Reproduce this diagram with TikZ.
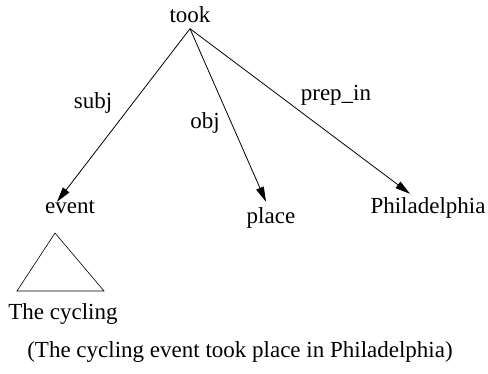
\documentclass[tikz,border=0pt]{standalone}
\usepackage{fontspec}
\setmainfont{Liberation Serif}
\usetikzlibrary{arrows.meta}

\begin{document}
\begin{tikzpicture}[x=1pt,y=-1pt,
  word/.style={anchor=base,inner sep=4pt,text height=0.7em,text depth=0.25em,font=\fontsize{23}{25}\selectfont},
  lab/.style={anchor=base,inner sep=0pt,font=\fontsize{23}{25}\selectfont},
  edge/.style={line width=0.8pt,-{Triangle[length=15pt,width=8pt]}}]
\useasboundingbox (0,0) rectangle (488,373);
\node[word] (took) at (190,22) {took};
\node[word] (event) at (70,213) {event};
\node[word] (place) at (271,223) {place};
\node[word] (phil) at (428,213) {Philadelphia};
\node[word] (cyc) at (63,319) {The cycling};
\node[lab] (lsubj) at (93,108) {subj};
\node[lab] (lobj) at (205,128) {obj};
\node[lab] (lprep) at (336,100) {prep\_in};
\foreach \to/\dx/\dy in {event/-13/0,place/-5/-10,phil/-18/-8}
\draw[edge] (took.south) -- ([shift={(\dx,\dy)}]\to.north);
\draw[line width=0.6pt] (17,291) -- (55,233) -- (104,291) -- cycle; % subtree
\node[lab] (caption) at (240,357) {(The cycling event took place in Philadelphia)};
\end{tikzpicture}
\end{document}
